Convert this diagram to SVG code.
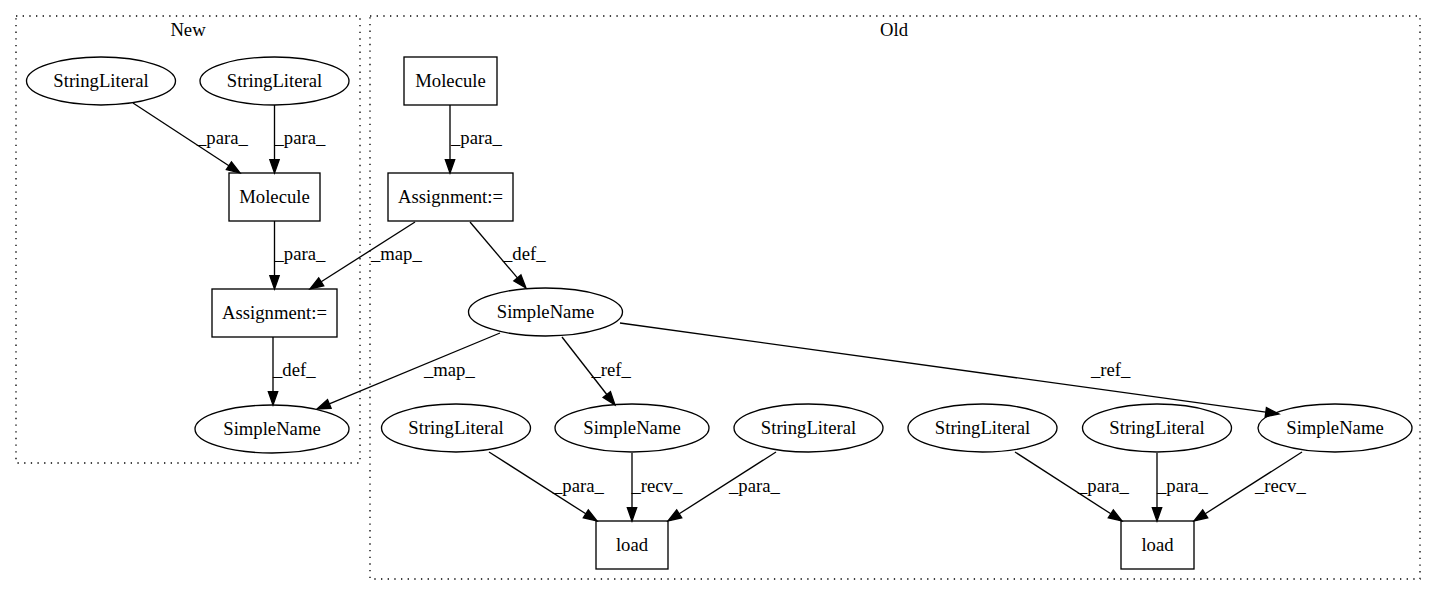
<svg xmlns="http://www.w3.org/2000/svg" width="1435" height="596" viewBox="0 0 1435 596" font-family="'Liberation Serif', 'Times New Roman', Times, serif" font-size="18.67">
<style>
text{font-family:'Liberation Serif','Times New Roman',Times,serif;font-size:18.67px;fill:#000}
.n text{text-anchor:middle}
.n ellipse,.n rect{fill:none;stroke:#000;stroke-width:1.33}
.cl{fill:none;stroke:#000;stroke-width:1.33;stroke-dasharray:1.33,5.33}
.e line{stroke:#000;stroke-width:1.33;marker-end:url(#ah)}
</style>
<defs>
<marker id="ah" markerUnits="userSpaceOnUse" markerWidth="16" markerHeight="12" refX="0" refY="4.67" orient="auto" overflow="visible">
<path d="M0,0 L13.3,4.67 L0,9.33 Z" fill="#000" stroke="#000" stroke-width="1.33"/>
</marker>
</defs>
<rect width="1435" height="596" fill="#fff"/>
<g id="cluster_new">
<rect class="cl" x="16" y="16" width="344" height="447"/>
<text x="188" y="36" text-anchor="middle">New</text>
</g>
<g id="cluster_old">
<rect class="cl" x="370" y="16" width="1050" height="563"/>
<text x="894" y="36" text-anchor="middle">Old</text>
</g>
<g id="connectors" class="e">
<line x1="133" y1="103" x2="228.9" y2="165.7"/>
<text x="197" y="144">_para_</text>
<line x1="274.5" y1="105" x2="274.5" y2="159.7"/>
<text x="274.5" y="144">_para_</text>
<line x1="274.5" y1="221" x2="274.5" y2="275.7"/>
<text x="274.5" y="260">_para_</text>
<line x1="273" y1="337" x2="273" y2="391.7"/>
<text x="273" y="376">_def_</text>
<line x1="450" y1="105" x2="450" y2="159.7"/>
<text x="451" y="144">_para_</text>
<line x1="470" y1="222" x2="517.4" y2="277.9"/>
<text x="503" y="260">_def_</text>
<line x1="415" y1="222" x2="321.2" y2="281.8"/>
<text x="371" y="260">_map_</text>
<line x1="500" y1="333" x2="329.3" y2="403.9"/>
<text x="424" y="376">_map_</text>
<line x1="562" y1="337" x2="606.8" y2="394.5"/>
<text x="591.5" y="376">_ref_</text>
<line x1="620" y1="323" x2="1265.8" y2="412.2"/>
<text x="1091" y="376">_ref_</text>
<line x1="489" y1="452" x2="585.8" y2="513.8"/>
<text x="553" y="492">_para_</text>
<line x1="632" y1="453" x2="632" y2="507.7"/>
<text x="631.5" y="492">_recv_</text>
<line x1="776" y1="452" x2="679.2" y2="513.8"/>
<text x="729" y="492">_para_</text>
<line x1="1015" y1="452" x2="1110.8" y2="513.8"/>
<text x="1078" y="492">_para_</text>
<line x1="1157" y1="453" x2="1157" y2="507.7"/>
<text x="1157" y="492">_para_</text>
<line x1="1302" y1="452" x2="1205.2" y2="513.8"/>
<text x="1255" y="492">_recv_</text>
</g>
<g id="new_sl1" class="n"><ellipse cx="101" cy="81" rx="74.5" ry="24"/><text x="101" y="87">StringLiteral</text></g>
<g id="new_sl2" class="n"><ellipse cx="274.5" cy="81" rx="74.5" ry="24"/><text x="274.5" y="87">StringLiteral</text></g>
<g id="new_molecule" class="n"><rect x="229" y="173" width="91" height="48"/><text x="274.5" y="203">Molecule</text></g>
<g id="new_assign" class="n"><rect x="212" y="289" width="125" height="48"/><text x="274.5" y="319">Assignment:=</text></g>
<g id="new_simplename" class="n"><ellipse cx="272" cy="429" rx="77" ry="24"/><text x="272" y="435">SimpleName</text></g>
<g id="old_molecule" class="n"><rect x="404" y="57" width="93" height="48"/><text x="450.5" y="87">Molecule</text></g>
<g id="old_assign" class="n"><rect x="388" y="173" width="125" height="48"/><text x="450.5" y="203">Assignment:=</text></g>
<g id="old_simplename" class="n"><ellipse cx="545.5" cy="312" rx="77" ry="24"/><text x="545.5" y="318">SimpleName</text></g>
<g id="old_sl1" class="n"><ellipse cx="456" cy="428" rx="74.5" ry="24"/><text x="456" y="434">StringLiteral</text></g>
<g id="old_simplename2" class="n"><ellipse cx="632" cy="428" rx="77" ry="24"/><text x="632" y="434">SimpleName</text></g>
<g id="old_sl2" class="n"><ellipse cx="808.5" cy="428" rx="74.5" ry="24"/><text x="808.5" y="434">StringLiteral</text></g>
<g id="old_sl3" class="n"><ellipse cx="982.5" cy="428" rx="74.5" ry="24"/><text x="982.5" y="434">StringLiteral</text></g>
<g id="old_sl4" class="n"><ellipse cx="1157" cy="428" rx="74.5" ry="24"/><text x="1157" y="434">StringLiteral</text></g>
<g id="old_simplename3" class="n"><ellipse cx="1335" cy="428" rx="77" ry="24"/><text x="1335" y="434">SimpleName</text></g>
<g id="old_load1" class="n"><rect x="596" y="521" width="72" height="48"/><text x="632" y="551">load</text></g>
<g id="old_load2" class="n"><rect x="1121" y="521" width="73" height="48"/><text x="1157.5" y="551">load</text></g>
</svg>
